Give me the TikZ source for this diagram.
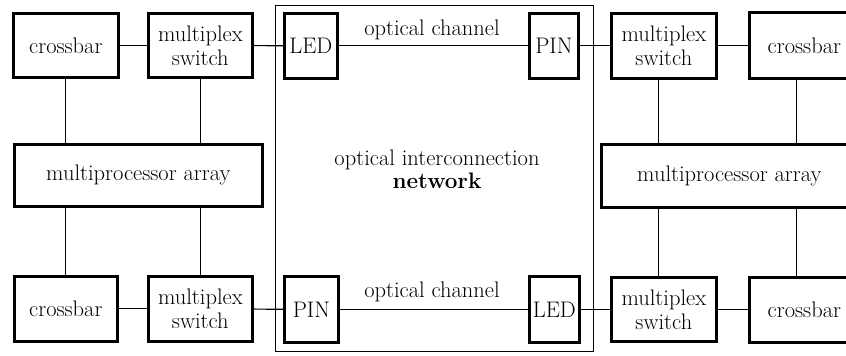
\documentclass[tikz,border=0pt]{standalone}
\begin{document}
\begin{tikzpicture}[x=1pt,y=-1pt,
  box/.style={draw, line width=2.7pt, rectangle, inner sep=0pt, anchor=north west, align=center,
    font=\fontsize{22.5}{24}\selectfont},
  conn/.style={line width=1.2pt},
  lbl/.style={font=\fontsize{22.5}{24}\selectfont, inner sep=0pt}]
\useasboundingbox (0,0) rectangle (846,356);
\clip (0,0) rectangle (846,356);
% network frame
\node[draw, line width=1.3pt, rectangle, inner sep=0pt, anchor=north west,
      minimum width=318pt, minimum height=346pt] (net) at (275,5) {};
\node[lbl, anchor=base] (nt1) at (437,165) {optical interconnection};
\node[lbl, anchor=base] (nt2) at (437,188) {\bfseries network};
% top row
\node[box, minimum width=105pt, minimum height=64pt] (cbTL) at (12,12) {crossbar};
\node[box, minimum width=104pt, minimum height=64pt] (muxTL) at (147,12) {multiplex\\switch};
\node[box, minimum width=53pt, minimum height=65pt] (ledT) at (283,12) {LED};
\node[box, minimum width=49pt, minimum height=65pt] (pinT) at (528,12) {PIN};
\node[box, minimum width=105pt, minimum height=65pt] (muxTR) at (610,12) {multiplex\\switch};
\node[box, minimum width=110pt, minimum height=66pt] (cbTR) at (748,11) {crossbar};
% arrays
\node[box, minimum width=248pt, minimum height=62pt] (arrL) at (13,143) {multiprocessor array};
\node[box, minimum width=256pt, minimum height=63pt] (arrR) at (600,143) {multiprocessor array};
% bottom row
\node[box, minimum width=103pt, minimum height=65pt] (cbBL) at (13,275) {crossbar};
\node[box, minimum width=104pt, minimum height=65pt] (muxBL) at (147,275) {multiplex\\switch};
\node[box, minimum width=54pt, minimum height=66pt] (pinB) at (283,275) {PIN};
\node[box, minimum width=50pt, minimum height=66pt] (ledB) at (528,275) {LED};
\node[box, minimum width=105pt, minimum height=64pt] (muxBR) at (610,276) {multiplex\\switch};
\node[box, minimum width=110pt, minimum height=65pt] (cbBR) at (748,276) {crossbar};
% channel labels
\node[lbl, anchor=base] (chT) at (432,35) {optical channel};
\node[lbl, anchor=base] (chB) at (432,297) {optical channel};
% horizontal connectors
\draw[conn] (cbTL) -- (muxTL);
\draw[conn] (muxTL) -- (ledT);
\draw[conn] (ledT) -- (pinT);
\draw[conn] (pinT) -- (muxTR);
\draw[conn] (muxTR) -- (cbTR.west |- muxTR);
\draw[conn] (cbBL) -- (muxBL);
\draw[conn] (muxBL) -- (pinB);
\draw[conn] (pinB) -- (ledB);
\draw[conn] (ledB) -- (muxBR);
\draw[conn] (muxBR) -- (cbBR.west |- muxBR);
% vertical connectors
\coordinate (vR1) at (658.5,0);
\coordinate (vR2) at (796.5,0);
\draw[conn] (cbTL.south) -- (cbTL.south |- arrL.north);
\draw[conn] (muxTL.south) -- (muxTL.south |- arrL.north);
\draw[conn] (arrL.south -| cbBL.north) -- (cbBL.north);
\draw[conn] (arrL.south -| muxBL.north) -- (muxBL.north);
\draw[conn] (muxTR.south -| vR1) -- (arrR.north -| vR1);
\draw[conn] (cbTR.south -| vR2) -- (arrR.north -| vR2);
\draw[conn] (arrR.south -| vR1) -- (muxBR.north -| vR1);
\draw[conn] (arrR.south -| vR2) -- (cbBR.north -| vR2);
\end{tikzpicture}
\end{document}
